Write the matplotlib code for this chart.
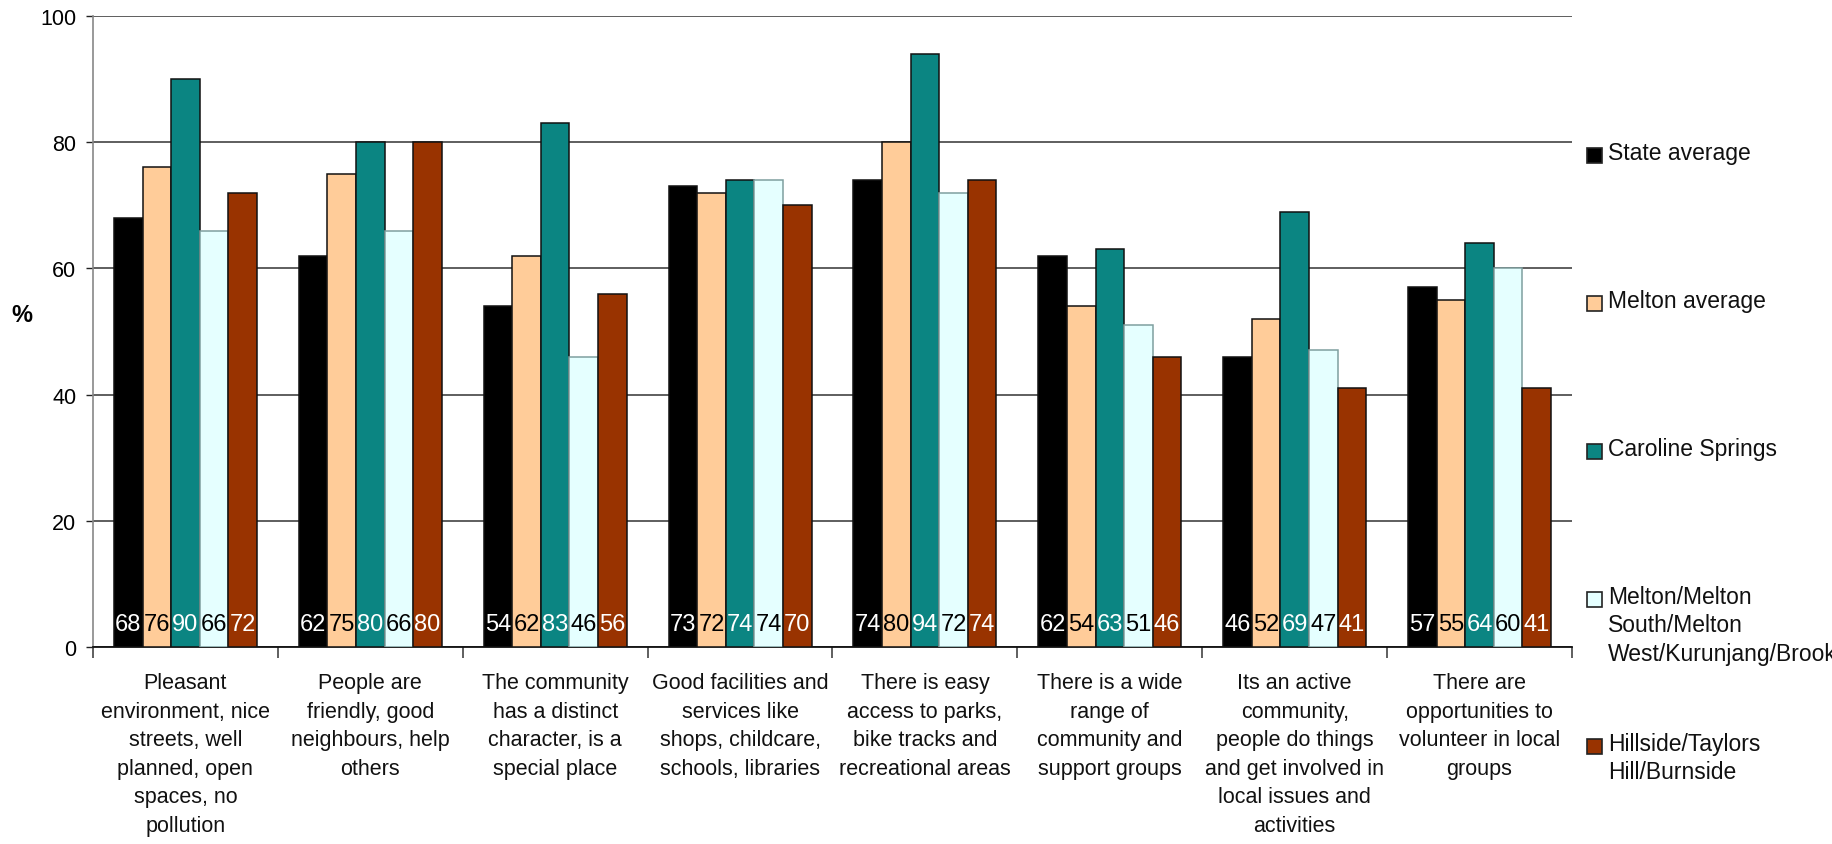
import matplotlib
matplotlib.use("Agg")
import matplotlib.pyplot as plt
from matplotlib.patches import Rectangle
import numpy as np

plt.rcParams['font.family'] = ['Liberation Sans', 'DejaVu Sans']

categories = [
    "Pleasant\nenvironment, nice\nstreets, well\nplanned, open\nspaces, no\npollution",
    "People are\nfriendly, good\nneighbours, help\nothers",
    "The community\nhas a distinct\ncharacter, is a\nspecial place",
    "Good facilities and\nservices like\nshops, childcare,\nschools, libraries",
    "There is easy\naccess to parks,\nbike tracks and\nrecreational areas",
    "There is a wide\nrange of\ncommunity and\nsupport groups",
    "Its an active\ncommunity,\npeople do things\nand get involved in\nlocal issues and\nactivities",
    "There are\nopportunities to\nvolunteer in local\ngroups",
]

series_names = [
    "State average",
    "Melton average",
    "Caroline Springs",
    "Melton/Melton\nSouth/Melton\nWest/Kurunjang/Brookfield",
    "Hillside/Taylors\nHill/Burnside",
]

state_average = [68, 62, 54, 73, 74, 62, 46, 57]
melton_average = [76, 75, 62, 72, 80, 54, 52, 55]
caroline_springs = [90, 80, 83, 74, 94, 63, 69, 64]
melton_west = [66, 66, 46, 74, 72, 51, 47, 60]
hillside = [72, 80, 56, 70, 74, 46, 41, 41]

yticks = [0, 20, 40, 60, 80, 100]

series_values = [state_average, melton_average, caroline_springs, melton_west, hillside]
colors = ['#000000', '#FFCC99', '#0B8582', '#E5FFFF', '#993300']
label_colors = ['white', 'black', 'white', 'black', 'white']

W, H, DPI = 1833, 845, 100
fig = plt.figure(figsize=(W / DPI, H / DPI), dpi=DPI)
ax = fig.add_axes([93 / W, 1 - 648 / H, (1572 - 93) / W, (648 - 17) / H])

x = np.arange(len(categories))
bw = 0.1546
for k, (vals, col, lcol) in enumerate(zip(series_values, colors, label_colors)):
    offs = (k - 2) * bw
    ec = '#7f9f9f' if col == '#E5FFFF' else '#111111'
    ax.bar(x + offs, vals, width=bw, color=col, edgecolor=ec, linewidth=1.1, zorder=3)
    for xi, v in zip(x, vals):
        ax.text(xi + offs, 3.6, f"{v:d}", ha='center', va='center',
                color=lcol, fontsize=17, zorder=4)

ax.set_xlim(-0.5, len(categories) - 0.5)
ax.set_ylim(0, 100)
ax.set_yticks(yticks)
ax.set_yticklabels([str(t) for t in yticks], fontsize=15.5)
ax.tick_params(axis='y', length=5, width=1, pad=7, color='#222222')
ax.yaxis.grid(True, color='#333333', linewidth=1.1, zorder=0)
ax.set_axisbelow(True)

ax.set_xticks(x)
ax.set_xticklabels(categories, fontsize=15.5, linespacing=1.47, color='#111111')
ax.tick_params(axis='x', which='major', length=0, pad=18)
ax.set_xticks(np.arange(-0.5, len(categories)), minor=True)
ax.tick_params(axis='x', which='minor', length=8, width=1.2, color='#444444')

for s in ['top', 'right']:
    ax.spines[s].set_visible(False)
ax.spines['left'].set_color('#888888')
ax.spines['left'].set_linewidth(1.2)
ax.spines['bottom'].set_color('#111111')
ax.spines['bottom'].set_linewidth(1.3)

fig.text(22 / W, 1 - 315 / H, "%", fontsize=17, fontweight='bold',
         ha='center', va='center')

# legend drawn entry by entry so the swatch sits beside the first text line
leg_y = [156, 304, 452, 600, 747]
for name, col, yc in zip(series_names, colors, leg_y):
    fig.add_artist(Rectangle((1587 / W, 1 - (yc + 7.5) / H), 15 / W, 15 / H,
                             transform=fig.transFigure, facecolor=col,
                             edgecolor='#222222', linewidth=1.2))
    fig.text(1608 / W, 1 - (yc - 14) / H, name, fontsize=16.5, ha='left',
             va='top', linespacing=1.3, color='#111111')

fig.savefig("out.png", dpi=DPI)
